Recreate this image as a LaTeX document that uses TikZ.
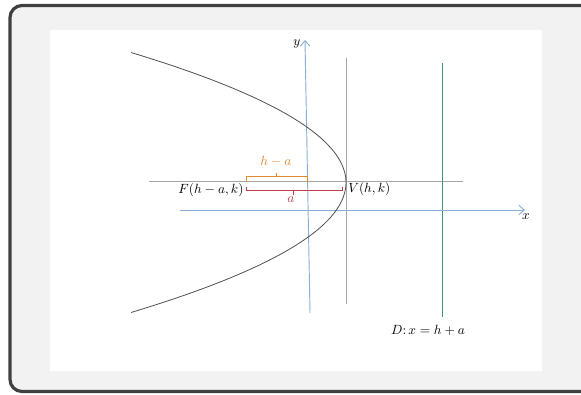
\documentclass[tikz,border=0pt]{standalone}
\usetikzlibrary{arrows.meta}
\definecolor{framec}{HTML}{404040}
\definecolor{bgc}{HTML}{F2F2F2}
\definecolor{axisc}{HTML}{8AAFD4}
\definecolor{gridc}{HTML}{A6A6A6}
\definecolor{curvec}{HTML}{505050}
\definecolor{greenc}{HTML}{3A9A6E}
\definecolor{orangec}{HTML}{E08A2E}
\definecolor{redc}{HTML}{C0404A}
\tikzset{
  axisline/.style={draw=axisc, line width=0.7pt, -{Straight Barb[length=4pt,width=7pt]}},
  guide/.style={draw=gridc, line width=0.5pt},
  lbl/.style={inner sep=0pt, font=\normalsize},
}
\begin{document}
\begin{tikzpicture}[x=0.75pt,y=-0.75pt]
\useasboundingbox (0,0) rectangle (581,394);
\begin{scope}
\clip (0,0) rectangle (581,394);
\draw[fill=bgc, draw=framec, line width=2.4pt, rounded corners=9pt] (10,5.5) rectangle (600,391.5);
\end{scope}
\fill[white] (50,30) rectangle (542,371);
% guides
\coordinate (hl) at (149,181);
\coordinate (hr) at (463,181);
\draw[guide] (hl) -- (hr);
\coordinate (vt) at (346,58);
\coordinate (vb) at (346,304);
\draw[guide] (vt) -- (vb);
% directrix
\coordinate (dt) at (442,63);
\coordinate (db) at (442,317);
\draw[draw=greenc, line width=0.6pt] (dt) -- (db);
% axes
\coordinate (xa) at (180,210);
\coordinate (xb) at (525,210);
\draw[axisline] (xa) -- (xb);
\coordinate (ya) at (310,313);
\coordinate (yb) at (305,40);
\draw[axisline] (ya) -- (yb);
\node[lbl] (xl) at (526,217) {$x$};
\node[lbl] (yl) at (297,44) {$y$};
% parabola
\draw[curvec, line width=0.6pt, domain=-1:1, samples=80, smooth]
  plot ({346 - 215*(\x)*(\x)}, {182.5+130*\x});
% orange bracket
\draw[orangec, line width=0.6pt] (246,182) -- (246,176.5) -- (307,176.5) -- (307,182)
  (276.5,176.5) -- (276.5,172.5);
\node[lbl, text=orangec] (hma) at (276,161) {$h-a$};
% red bracket
\draw[redc, line width=0.6pt] (246,186.5) -- (246,190.5) -- (342,190.5) -- (342,186.5)
  (293,190.5) -- (293,194.5);
\node[lbl, text=redc] (al) at (291,200) {$a$};
% labels
\node[lbl] (F) at (211,190) {$F(h-a,k)$};
\node[lbl, anchor=west] (V) at (348,189) {$V(h,k)$};
\node[lbl] (D) at (428,330) {$D\colon x=h+a$};
\end{tikzpicture}
\end{document}
